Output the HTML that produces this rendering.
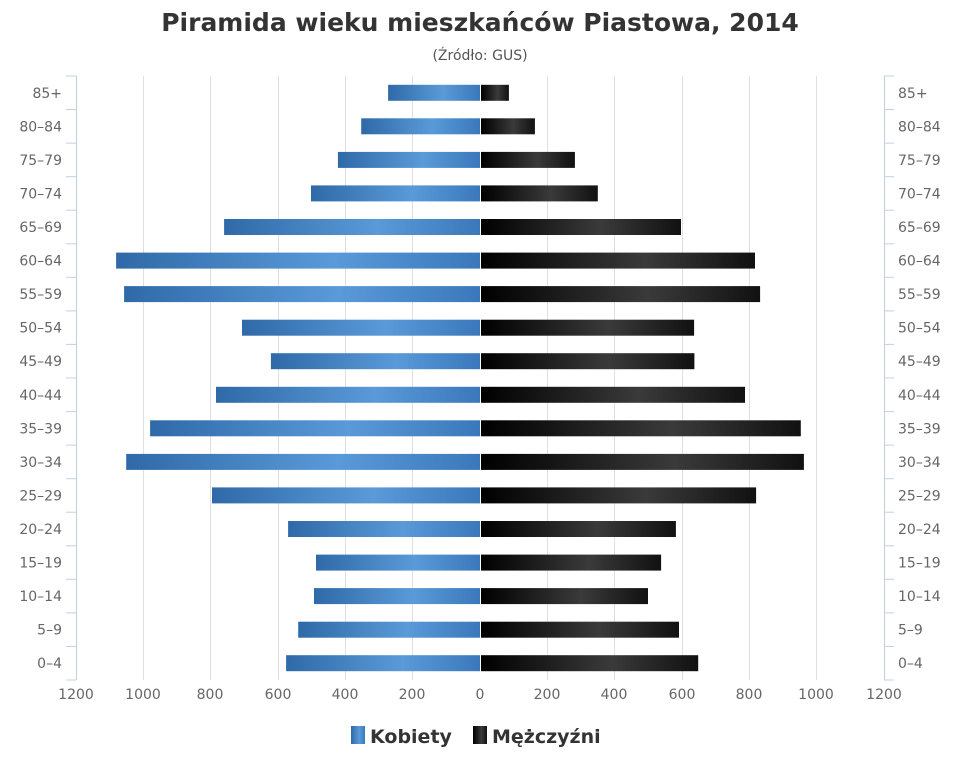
<!DOCTYPE html>
<html><head><meta charset="utf-8"><style>
body{margin:0;background:#fff;width:960px;height:768px;overflow:hidden;}
</style></head><body>
<svg width="960" height="768" xmlns="http://www.w3.org/2000/svg" font-family="DejaVu Sans, Liberation Sans, sans-serif">
<defs>
<linearGradient id="b" x1="0" x2="1" y1="0" y2="0"><stop offset="0" stop-color="#2f69a8"/><stop offset="0.6" stop-color="#5a9ad8"/><stop offset="1" stop-color="#3a78bb"/></linearGradient>
<linearGradient id="k" x1="0" x2="1" y1="0" y2="0"><stop offset="0" stop-color="#000"/><stop offset="0.6" stop-color="#3a3a3a"/><stop offset="1" stop-color="#111"/></linearGradient>
</defs>
<text x="480" y="31" text-anchor="middle" font-size="25" font-weight="bold" fill="#333">Piramida wieku mieszkańców Piastowa, 2014</text>
<text x="480" y="60" text-anchor="middle" font-size="14" fill="#555">(Źródło: GUS)</text>
<g stroke="#e0e0e0" stroke-width="1">
<line x1="143.5" y1="76" x2="143.5" y2="680"/><line x1="210.5" y1="76" x2="210.5" y2="680"/><line x1="278.5" y1="76" x2="278.5" y2="680"/><line x1="345.5" y1="76" x2="345.5" y2="680"/><line x1="412.5" y1="76" x2="412.5" y2="680"/><line x1="547.5" y1="76" x2="547.5" y2="680"/><line x1="614.5" y1="76" x2="614.5" y2="680"/><line x1="682.5" y1="76" x2="682.5" y2="680"/><line x1="749.5" y1="76" x2="749.5" y2="680"/><line x1="816.5" y1="76" x2="816.5" y2="680"/>
</g>
<g stroke="#c0d0e0" stroke-width="1">
<line x1="76.5" y1="76" x2="76.5" y2="680"/><line x1="884.5" y1="76" x2="884.5" y2="680"/>
<line x1="66" x2="76" y1="76" y2="76"/><line x1="66" x2="76" y1="109.6" y2="109.6"/><line x1="66" x2="76" y1="143.1" y2="143.1"/><line x1="66" x2="76" y1="176.7" y2="176.7"/><line x1="66" x2="76" y1="210.2" y2="210.2"/><line x1="66" x2="76" y1="243.8" y2="243.8"/><line x1="66" x2="76" y1="277.3" y2="277.3"/><line x1="66" x2="76" y1="310.9" y2="310.9"/><line x1="66" x2="76" y1="344.4" y2="344.4"/><line x1="66" x2="76" y1="378" y2="378"/><line x1="66" x2="76" y1="411.6" y2="411.6"/><line x1="66" x2="76" y1="445.1" y2="445.1"/><line x1="66" x2="76" y1="478.7" y2="478.7"/><line x1="66" x2="76" y1="512.2" y2="512.2"/><line x1="66" x2="76" y1="545.8" y2="545.8"/><line x1="66" x2="76" y1="579.3" y2="579.3"/><line x1="66" x2="76" y1="612.9" y2="612.9"/><line x1="66" x2="76" y1="646.4" y2="646.4"/><line x1="66" x2="76" y1="680" y2="680"/>
<line x1="884" x2="894" y1="76" y2="76"/><line x1="884" x2="894" y1="109.6" y2="109.6"/><line x1="884" x2="894" y1="143.1" y2="143.1"/><line x1="884" x2="894" y1="176.7" y2="176.7"/><line x1="884" x2="894" y1="210.2" y2="210.2"/><line x1="884" x2="894" y1="243.8" y2="243.8"/><line x1="884" x2="894" y1="277.3" y2="277.3"/><line x1="884" x2="894" y1="310.9" y2="310.9"/><line x1="884" x2="894" y1="344.4" y2="344.4"/><line x1="884" x2="894" y1="378" y2="378"/><line x1="884" x2="894" y1="411.6" y2="411.6"/><line x1="884" x2="894" y1="445.1" y2="445.1"/><line x1="884" x2="894" y1="478.7" y2="478.7"/><line x1="884" x2="894" y1="512.2" y2="512.2"/><line x1="884" x2="894" y1="545.8" y2="545.8"/><line x1="884" x2="894" y1="579.3" y2="579.3"/><line x1="884" x2="894" y1="612.9" y2="612.9"/><line x1="884" x2="894" y1="646.4" y2="646.4"/><line x1="884" x2="894" y1="680" y2="680"/>
</g>
<g fill="url(#b)">
<rect x="388.1" y="84.8" width="91.9" height="16"/>
<rect x="361.2" y="118.3" width="118.8" height="16"/>
<rect x="337.9" y="151.9" width="142.1" height="16"/>
<rect x="311" y="185.4" width="169" height="16"/>
<rect x="224.1" y="219" width="255.9" height="16"/>
<rect x="116.1" y="252.6" width="363.9" height="16"/>
<rect x="124.1" y="286.1" width="355.9" height="16"/>
<rect x="242" y="319.7" width="238" height="16"/>
<rect x="270.9" y="353.2" width="209.1" height="16"/>
<rect x="216" y="386.8" width="264" height="16"/>
<rect x="150.1" y="420.3" width="329.9" height="16"/>
<rect x="126.2" y="453.9" width="353.8" height="16"/>
<rect x="212" y="487.4" width="268" height="16"/>
<rect x="288.1" y="521" width="191.9" height="16"/>
<rect x="316" y="554.6" width="164" height="16"/>
<rect x="314" y="588.1" width="166" height="16"/>
<rect x="298.2" y="621.7" width="181.8" height="16"/>
<rect x="286.1" y="655.2" width="193.9" height="16"/>
</g>
<g fill="url(#k)">
<rect x="481" y="84.8" width="27.9" height="16"/>
<rect x="481" y="118.3" width="53.9" height="16"/>
<rect x="481" y="151.9" width="93.9" height="16"/>
<rect x="481" y="185.4" width="116.8" height="16"/>
<rect x="481" y="219" width="200" height="16"/>
<rect x="481" y="252.6" width="274" height="16"/>
<rect x="481" y="286.1" width="279.1" height="16"/>
<rect x="481" y="319.7" width="213.1" height="16"/>
<rect x="481" y="353.2" width="213.4" height="16"/>
<rect x="481" y="386.8" width="264" height="16"/>
<rect x="481" y="420.3" width="319.8" height="16"/>
<rect x="481" y="453.9" width="322.9" height="16"/>
<rect x="481" y="487.4" width="275.1" height="16"/>
<rect x="481" y="521" width="194.9" height="16"/>
<rect x="481" y="554.6" width="180.1" height="16"/>
<rect x="481" y="588.1" width="167" height="16"/>
<rect x="481" y="621.7" width="198" height="16"/>
<rect x="481" y="655.2" width="217.2" height="16"/>
</g>
<g font-size="14" fill="#666" text-anchor="end">
<text x="62" y="97.8">85+</text><text x="62" y="131.3">80–84</text><text x="62" y="164.9">75–79</text><text x="62" y="198.4">70–74</text><text x="62" y="232">65–69</text><text x="62" y="265.6">60–64</text><text x="62" y="299.1">55–59</text><text x="62" y="332.7">50–54</text><text x="62" y="366.2">45–49</text><text x="62" y="399.8">40–44</text><text x="62" y="433.3">35–39</text><text x="62" y="466.9">30–34</text><text x="62" y="500.4">25–29</text><text x="62" y="534">20–24</text><text x="62" y="567.6">15–19</text><text x="62" y="601.1">10–14</text><text x="62" y="634.7">5–9</text><text x="62" y="668.2">0–4</text>
</g>
<g font-size="14" fill="#666">
<text x="898" y="97.8">85+</text><text x="898" y="131.3">80–84</text><text x="898" y="164.9">75–79</text><text x="898" y="198.4">70–74</text><text x="898" y="232">65–69</text><text x="898" y="265.6">60–64</text><text x="898" y="299.1">55–59</text><text x="898" y="332.7">50–54</text><text x="898" y="366.2">45–49</text><text x="898" y="399.8">40–44</text><text x="898" y="433.3">35–39</text><text x="898" y="466.9">30–34</text><text x="898" y="500.4">25–29</text><text x="898" y="534">20–24</text><text x="898" y="567.6">15–19</text><text x="898" y="601.1">10–14</text><text x="898" y="634.7">5–9</text><text x="898" y="668.2">0–4</text>
</g>
<g font-size="14" fill="#666" text-anchor="middle">
<text x="76" y="699">1200</text><text x="143" y="699">1000</text><text x="210" y="699">800</text><text x="278" y="699">600</text><text x="345" y="699">400</text><text x="412" y="699">200</text><text x="480" y="699">0</text><text x="547" y="699">200</text><text x="614" y="699">400</text><text x="682" y="699">600</text><text x="749" y="699">800</text><text x="816" y="699">1000</text><text x="884" y="699">1200</text>
</g>
<rect x="351" y="726" width="14" height="18" fill="url(#b)"/>
<text x="370" y="743" font-size="19" fill="#333" font-weight="bold">Kobiety</text>
<rect x="473" y="726" width="14" height="18" fill="url(#k)"/>
<text x="492" y="743" font-size="19" fill="#333" font-weight="bold">Mężczyźni</text>
</svg>
</body></html>
